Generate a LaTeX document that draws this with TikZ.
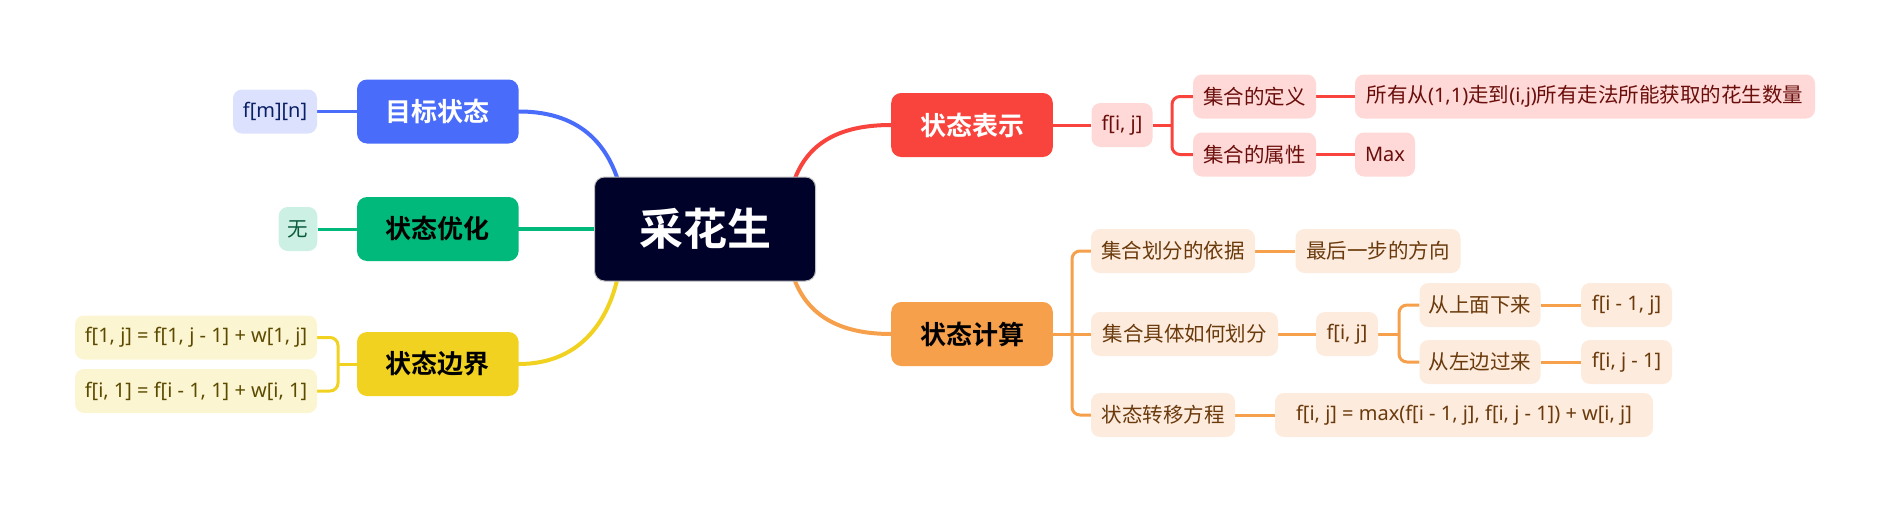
\documentclass[tikz,border=0pt]{standalone}
\usepackage{fontspec}
\setmainfont{Noto Sans CJK SC}[BoldFont={Noto Sans CJK SC Bold}]
\newfontfamily\latinfont{Noto Sans}
\usetikzlibrary{backgrounds,calc}
\definecolor{rootF}{HTML}{000229}
\definecolor{blueM}{HTML}{4A6CFB}
\definecolor{blueL}{HTML}{DCE2FE}
\definecolor{blueT}{HTML}{0A1F66}
\definecolor{greenM}{HTML}{00B97A}
\definecolor{greenL}{HTML}{CCF1E4}
\definecolor{greenT}{HTML}{0B5B3D}
\definecolor{yellowM}{HTML}{F2D220}
\definecolor{yellowL}{HTML}{FCF5D2}
\definecolor{yellowT}{HTML}{5B4A00}
\definecolor{redM}{HTML}{F9443D}
\definecolor{redL}{HTML}{FED9D7}
\definecolor{redT}{HTML}{6B0E0B}
\definecolor{orangeM}{HTML}{F6A04C}
\definecolor{orangeL}{HTML}{FDEBDD}
\definecolor{orangeT}{HTML}{6A3A0C}
\tikzset{
  leaf/.style={rounded corners=9pt, inner sep=0pt, minimum height=44pt, font=\fontsize{20.5}{24}\selectfont},
  latinleaf/.style={leaf, font=\fontsize{20}{24}\selectfont\latinfont},
  mainbox/.style={rounded corners=10pt, inner sep=0pt, minimum height=64pt, minimum width=161.6pt, font=\fontsize{26}{30}\selectfont\bfseries},
  rootbox/.style={rounded corners=10pt, inner sep=0pt, minimum height=104pt, minimum width=221pt, fill=rootF, draw=gray!50, line width=1pt, text=white, font=\fontsize{44}{50}\selectfont\bfseries},
  mainline/.style={line width=4pt, line cap=round},
  subline/.style={line width=3pt}
}
\begin{document}
\begin{tikzpicture}[x=1pt,y=-1pt]
\useasboundingbox (0,0) rectangle (1891,514);
% root
\node[rootbox] (root) at (705,229) {采花生};
% left main boxes
\node[mainbox, fill=blueM, text=white] (mubiao) at (437.8,111.5) {目标状态};
\node[mainbox, fill=greenM, text=black] (youhua) at (437.8,229) {状态优化};
\node[mainbox, fill=yellowM, text=black] (bianjie) at (437.8,364) {状态边界};
% left leaves
\node[latinleaf, fill=blueL, text=blueT, minimum width=84pt] (fmn) at (275,111.5) {f[m][n]};
\node[leaf, fill=greenL, text=greenT, minimum width=38.6pt] (wu) at (298,229) {无};
\node[latinleaf, fill=yellowL, text=yellowT, minimum width=242pt] (f1j) at (196,337.5) {f[1, j] = f[1, j - 1] + w[1, j]};
\node[latinleaf, fill=yellowL, text=yellowT, minimum width=242pt] (fi1) at (196,391) {f[i, 1] = f[i - 1, 1] + w[i, 1]};
% right main boxes
\node[mainbox, fill=redM, text=white] (biaoshi) at (972,125) {状态表示};
\node[mainbox, fill=orangeM, text=black] (jisuan) at (972,334) {状态计算};
% red leaves
\node[latinleaf, fill=redL, text=redT, minimum width=61pt] (fij1) at (1122,125) {f[i, j]};
\node[leaf, fill=redL, text=redT, minimum width=123pt] (dingyi) at (1254.5,96.5) {集合的定义};
\node[leaf, fill=redL, text=redT, minimum width=123pt] (shuxing) at (1254.5,154.5) {集合的属性};
\node[leaf, fill=redL, text=redT, minimum width=460pt] (suoyou) at (1585,96.5) {所有从{\latinfont\fontsize{20}{24}\selectfont(1,1)}走到{\latinfont\fontsize{20}{24}\selectfont(i,j)}所有走法所能获取的花生数量};
\node[latinleaf, fill=redL, text=redT, minimum width=60pt] (mx) at (1385,154.5) {Max};
% orange leaves
\node[leaf, fill=orangeL, text=orangeT, minimum width=164pt] (yiju) at (1173,251) {集合划分的依据};
\node[leaf, fill=orangeL, text=orangeT, minimum width=165pt] (fangxiang) at (1378,251) {最后一步的方向};
\node[leaf, fill=orangeL, text=orangeT, minimum width=187pt] (huafen) at (1184.5,334) {集合具体如何划分};
\node[latinleaf, fill=orangeL, text=orangeT, minimum width=62pt] (fij2) at (1347,334) {f[i, j]};
\node[leaf, fill=orangeL, text=orangeT, minimum width=121pt] (shang) at (1480,305) {从上面下来};
\node[leaf, fill=orangeL, text=orangeT, minimum width=121pt] (zuo) at (1480,362) {从左边过来};
\node[latinleaf, fill=orangeL, text=orangeT, minimum width=91pt] (fim1) at (1626.5,305) {f[i - 1, j]};
\node[latinleaf, fill=orangeL, text=orangeT, minimum width=91pt] (fjm1) at (1626.5,362) {f[i, j - 1]};
\node[leaf, fill=orangeL, text=orangeT, minimum width=144pt] (zhuanyi) at (1163,415) {状态转移方程};
\node[latinleaf, fill=orangeL, text=orangeT, minimum width=378pt] (maxeq) at (1464,415) {f[i, j] = max(f[i - 1, j], f[i, j - 1]) + w[i, j]};
% junction coordinates
\coordinate (rTL) at (622,195);
\coordinate (rTR) at (790,195);
\coordinate (rBL) at (620,265);
\coordinate (rBR) at (790,265);
\coordinate (bjJ) at (338,364);
\coordinate (bsJ) at (1172,125);
\coordinate (jsJ) at (1072,334);
\coordinate (fjJ) at (1399,334);
\begin{pgfonlayer}{background}
% main curves
\draw[mainline, blueM] (mubiao.east) .. controls (585,111.5) and (612,150) .. (rTL);
\draw[mainline, greenM] (youhua.east) -- (root.west);
\draw[mainline, yellowM] (bianjie.east) .. controls (582,364) and (612,318) .. (rBL);
\draw[mainline, redM] (biaoshi.west) .. controls (830,125) and (800,150) .. (rTR);
\draw[mainline, orangeM] (jisuan.west) .. controls (830,334) and (800,308) .. (rBR);
% left sub lines
\draw[subline, blueM] (fmn.east) -- (mubiao.west);
\draw[subline, greenM] (wu.east) -- (youhua.west);
\draw[subline, yellowM] (bianjie.west) -- (bjJ);
\draw[subline, yellowM, rounded corners=8pt] (bjJ) |- (f1j.east);
\draw[subline, yellowM, rounded corners=8pt] (bjJ) |- (fi1.east);
% red sub lines
\draw[subline, redM] (biaoshi.east) -- (fij1.west);
\draw[subline, redM] (fij1.east) -- (bsJ);
\draw[subline, redM, rounded corners=8pt] (bsJ) |- (dingyi.west);
\draw[subline, redM, rounded corners=8pt] (bsJ) |- (shuxing.west);
\draw[subline, redM] (dingyi.east) -- (suoyou.west);
\draw[subline, redM] (shuxing.east) -- (mx.west);
% orange sub lines
\draw[subline, orangeM] (jisuan.east) -- (huafen.west);
\draw[subline, orangeM, rounded corners=8pt] (jsJ) |- (yiju.west);
\draw[subline, orangeM, rounded corners=8pt] (jsJ) |- (zhuanyi.west);
\draw[subline, orangeM] (yiju.east) -- (fangxiang.west);
\draw[subline, orangeM] (huafen.east) -- (fij2.west);
\draw[subline, orangeM] (fij2.east) -- (fjJ);
\draw[subline, orangeM, rounded corners=8pt] (fjJ) |- (shang.west);
\draw[subline, orangeM, rounded corners=8pt] (fjJ) |- (zuo.west);
\draw[subline, orangeM] (shang.east) -- (fim1.west);
\draw[subline, orangeM] (zuo.east) -- (fjm1.west);
\draw[subline, orangeM] (zhuanyi.east) -- (maxeq.west);
\end{pgfonlayer}
\end{tikzpicture}
\end{document}
